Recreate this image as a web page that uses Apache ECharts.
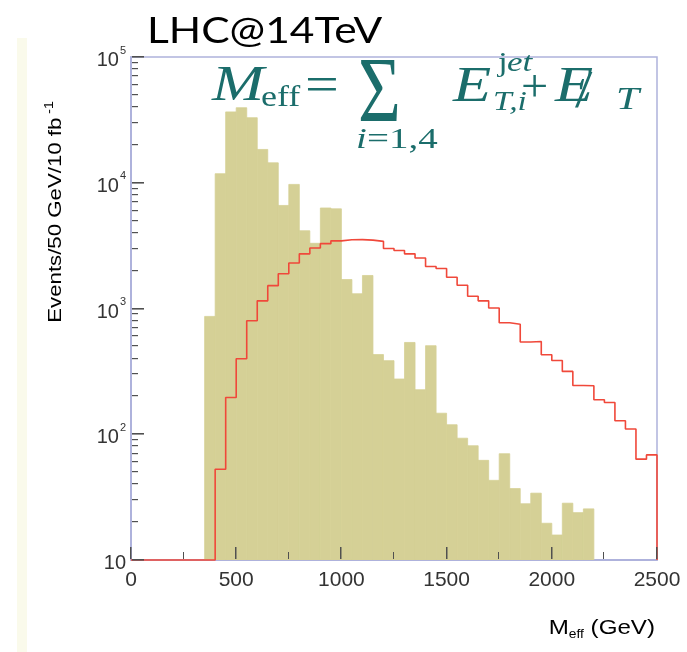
<!DOCTYPE html>
<html>
<head>
<meta charset="utf-8">
<script src="https://cdn.jsdelivr.net/npm/echarts@6/dist/echarts.min.js"></script>
<style>
  html, body { margin: 0; padding: 0; background: #ffffff; }
  #chart { width: 687px; height: 652px; }
</style>
</head>
<body>
<div id="chart"></div>
<script>
// Filled histogram: lower bin edges (GeV) and events per 50 GeV bin
const filledBinLow = [350, 400, 450, 500, 550, 600, 650, 700, 750, 800, 850, 900, 950,
  1000, 1050, 1100, 1150, 1200, 1250, 1300, 1350, 1400, 1450, 1500, 1550, 1600, 1650,
  1700, 1750, 1800, 1850, 1900, 1950, 2000, 2050, 2100, 2150];
const filledCounts = [865, 11800, 36600, 39500, 32900, 18400, 14400, 6600, 9700, 4150, 3300, 6300, 6200,
  1700, 1310, 1830, 430, 385, 275, 537, 226, 506, 147, 119, 93, 81, 62,
  43, 70, 37, 28, 34, 19.6, 15.8, 28.3, 23.8, 25.5];

// Line histogram: lower bin edges (GeV) and events per 50 GeV bin
const lineBinLow = [0, 50, 100, 150, 200, 250, 300, 350, 400, 450, 500, 550, 600, 650, 700,
  750, 800, 850, 900, 950, 1000, 1050, 1100, 1150, 1200, 1250, 1300, 1350, 1400, 1450,
  1500, 1550, 1600, 1650, 1700, 1750, 1800, 1850, 1900, 1950, 2000, 2050, 2100, 2150,
  2200, 2250, 2300, 2350, 2400, 2450];
const lineCounts = [10, 10, 10, 10, 10, 10, 10, 10, 52.7, 196, 398, 800, 1150, 1520, 1890,
  2300, 2720, 3030, 3280, 3450, 3520, 3530, 3500, 3420, 3000, 2890, 2720, 2520, 2160, 2080,
  1770, 1530, 1250, 1150, 1010, 770, 750, 541, 546, 429, 386, 316, 244, 243,
  188, 179, 128, 110, 63.4, 68.5];

// Tick positions
const xMajorTicks = [0, 500, 1000, 1500, 2000, 2500];
const xMinorTicks = [250, 750, 1250, 1750, 2250];
const yMajorTicks = [10, 100, 1000, 10000, 100000];

const binWidth = 50;
const xMin = 0, xMax = 2500, xStep = 500;
const yMin = 10, yMax = 100000;

const olive = '#d5d096';
const red = '#f0483a';
const frame = '#aeb2dc';
const tickGrey = '#505050';
const labelGrey = '#333333';
const teal = '#1b6d6b';
const sansFont = '"Liberation Sans", Arial, sans-serif';
const serifFont = '"Liberation Serif", "DejaVu Serif", serif';

// minor ticks of the log axis: 2..9 times each decade
const yMinorTicks = [];
for (let d = yMin; d < yMax; d *= 10) {
  for (let k = 2; k <= 9; k++) yMinorTicks.push(k * d);
}

const filledData = filledBinLow.map((lo, i) => [lo, lo + binWidth, filledCounts[i]]);
const lineData = lineBinLow.map((lo, i) => [lo, lineCounts[i]]);
lineData.push([xMax, yMin]);

// x tick marks: [x, y, major (1) / minor (0)]
const xTickData = []
  .concat(xMajorTicks.map(v => [v, yMin, 1]))
  .concat(xMinorTicks.map(v => [v, yMin, 0]));

const chart = echarts.init(document.getElementById('chart'), null, { renderer: 'canvas' });

// one piece of the formula: left edge x, vertical centre y
function mathText(text, x, y, size, italic, sx, sy) {
  return {
    type: 'text', x: x, y: y, z: 50,
    scaleX: sx || 1, scaleY: sy || 1,
    style: {
      text: text,
      fill: teal,
      font: (italic ? 'italic ' : '') + size + 'px ' + serifFont,
      verticalAlign: 'middle',
      align: 'left'
    }
  };
}

// y tick marks along the left edge of the plot, placed through the log axis
function yTickRects(api, coordSys) {
  const left = Math.round(coordSys.x);
  const rects = [];
  const add = function (v, len, thick) {
    const py = Math.round(api.coord([xMax / 2, v])[1]);
    rects.push({
      type: 'rect',
      shape: { x: left + 1, y: py - 1, width: len, height: thick },
      style: { fill: tickGrey }
    });
  };
  yMajorTicks.forEach(v => add(v, 12, 1.6));
  yMinorTicks.forEach(v => add(v, 6, 1.2));
  return rects;
}

const option = {
  backgroundColor: '#ffffff',
  animation: false,
  grid: {
    left: 131, right: 30, top: 57, bottom: 92,
    show: true, borderColor: frame, borderWidth: 1.5, backgroundColor: 'transparent'
  },
  xAxis: {
    type: 'value', min: xMin, max: xMax, interval: xStep,
    axisLine: { show: true, lineStyle: { color: frame, width: 2 } },
    axisTick: { show: false },
    minorTick: { show: false },
    splitLine: { show: false },
    axisLabel: {
      show: true, margin: 10, color: labelGrey, fontSize: 21, fontFamily: sansFont,
      formatter: function (v) { return String(v); }
    }
  },
  yAxis: {
    type: 'log', logBase: 10, min: yMin, max: yMax,
    axisLine: { show: true, lineStyle: { color: frame, width: 2 } },
    axisTick: { show: false },
    splitLine: { show: false },
    axisLabel: {
      show: true, margin: 5,
      formatter: function (v) {
        const e = Math.round(Math.log10(v));
        return e === 1 ? '{b|10}' : '{b|10}{s|' + e + '}';
      },
      rich: {
        b: { fontSize: 20, color: labelGrey, fontFamily: sansFont, lineHeight: 24, padding: [7, 0, 0, 0] },
        s: { fontSize: 11, color: labelGrey, fontFamily: sansFont, verticalAlign: 'top', lineHeight: 11, padding: [0, 0, 0, 1] }
      }
    }
  },
  series: [
    {
      type: 'custom',
      name: 'filled',
      data: filledData,
      encode: { x: [0, 1], y: 2 },
      clip: true,
      z: 2,
      renderItem: function (params, api) {
        const a = api.coord([api.value(0), api.value(2)]);
        const b = api.coord([api.value(1), yMin]);
        return {
          type: 'rect',
          shape: { x: a[0], y: a[1], width: b[0] - a[0], height: b[1] - a[1] },
          style: { fill: olive, stroke: olive, lineWidth: 0.8 }
        };
      }
    },
    {
      type: 'line',
      name: 'line',
      data: lineData,
      step: 'end',
      symbol: 'none',
      clip: false,
      z: 5,
      lineStyle: { color: red, width: 1.6 }
    },
    {
      type: 'custom',
      name: 'ticks',
      data: xTickData,
      encode: { x: 0, y: 1 },
      silent: true,
      z: 20,
      renderItem: function (params, api) {
        const p = api.coord([api.value(0), api.value(1)]);
        const major = api.value(2) === 1;
        const len = major ? 12 : 7;
        const px = Math.round(p[0]);
        const py = Math.round(p[1]);
        const children = [{
          type: 'rect',
          shape: { x: px - 1, y: py - len - 1, width: major ? 1.5 : 1, height: len },
          style: { fill: tickGrey }
        }];
        if (params.dataIndex === 0) {
          Array.prototype.push.apply(children, yTickRects(api, params.coordSys));
        }
        return { type: 'group', children: children };
      }
    }
  ],
  graphic: [
    // page strip on the left
    { type: 'rect', shape: { x: 17, y: 38, width: 10, height: 614 }, style: { fill: '#fafaeb' }, z: 0 },
    // title
    {
      type: 'text', x: 147, y: 31, z: 50, scaleX: 1.18,
      style: { text: 'LHC@14TeV', fill: '#000000', font: '36px Lato, "Open Sans", sans-serif', verticalAlign: 'middle' }
    },
    // y axis title
    {
      type: 'text', x: 56, y: 212, rotation: Math.PI / 2, z: 50, scaleX: 1.17,
      style: {
        text: '{m|Events/50 GeV/10 fb} {s|-1}',
        align: 'center', verticalAlign: 'middle',
        rich: {
          m: { fontSize: 19, color: '#3a3a3a', fontFamily: sansFont, lineHeight: 24 },
          s: { fontSize: 12, color: '#3a3a3a', fontFamily: sansFont, verticalAlign: 'top', lineHeight: 12 }
        }
      }
    },
    // x axis title
    {
      type: 'text', x: 655, y: 628, z: 50, scaleX: 1.15,
      style: {
        text: '{m|M}{s|eff}{m| (GeV)}',
        align: 'right', verticalAlign: 'middle',
        rich: {
          m: { fontSize: 21, color: '#3a3a3a', fontFamily: sansFont, lineHeight: 25 },
          s: { fontSize: 12, color: '#3a3a3a', fontFamily: sansFont, verticalAlign: 'bottom', lineHeight: 12, padding: [11, 0, 0, 0] }
        }
      }
    },
    // formula
    mathText('M', 212, 87, 50, true, 1.25),
    mathText('eff', 261, 98, 30, false, 1.2),
    mathText('=', 305, 88, 50, false, 1.2),
    mathText('\u03A3', 358, 97, 64, false, 1.15, 1.45),
    mathText('i', 356, 140, 30, true, 1.3),
    mathText('=1,4', 367, 140, 30, false, 1.3),
    mathText('E', 453, 88, 50, true, 1.25),
    mathText('j', 498, 64, 28, false, 1.25),
    mathText('et', 507, 64, 28, true, 1.25),
    mathText('T,i', 493, 103, 28, true, 1.2),
    mathText('+', 521, 89, 46, false, 1.05),
    mathText('E', 555, 88, 50, true, 1.25),
    mathText('/', 575, 93, 52, false, 1.2),
    mathText('T', 616, 101, 32, true, 1.3)
  ]
};

chart.setOption(option);
</script>
</body>
</html>
